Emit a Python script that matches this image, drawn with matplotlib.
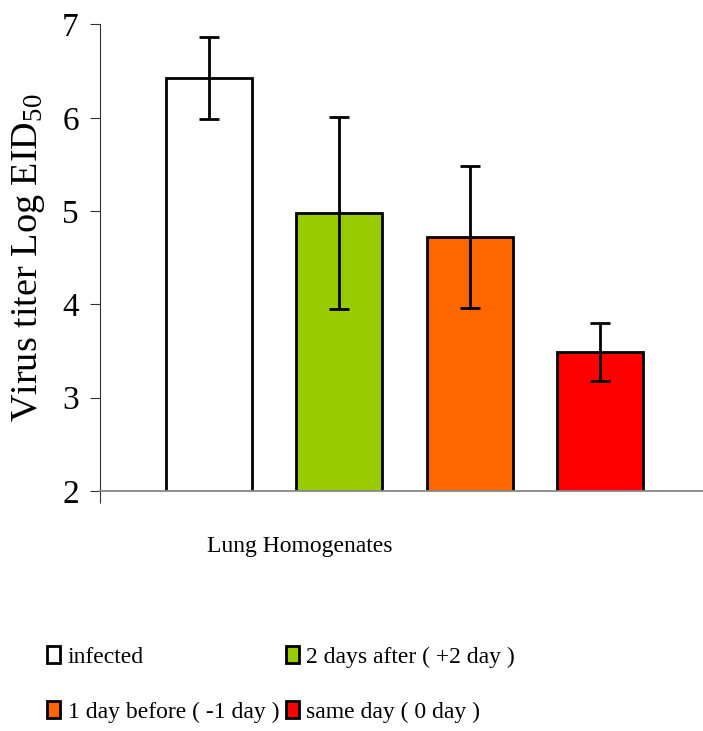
import numpy as np
import matplotlib
matplotlib.use("Agg")
import matplotlib.pyplot as plt

plt.rcParams["font.family"] = ["Liberation Serif", "DejaVu Serif"]
plt.rcParams["mathtext.fontset"] = "custom"
plt.rcParams["mathtext.rm"] = "Liberation Serif"
plt.rcParams["mathtext.it"] = "Liberation Serif"

# titres viraux (log EID50) dans les homogénats pulmonaires
groups = ["infected", "2 days after ( +2 day )",
          "1 day before ( -1 day )", "same day ( 0 day )"]
titer = [6.43, 4.98, 4.72, 3.49]
titer_err = [0.44, 1.03, 0.76, 0.31]
colors = ["#FFFFFF", "#99CC00", "#FF6600", "#FF0000"]

fig = plt.figure(figsize=(7.03, 7.31), dpi=100, facecolor="white")
ax = fig.add_axes([0.1422, 0.3283, 0.8578, 0.6382])

x = np.arange(len(groups))
bars = ax.bar(x, titer, width=0.66, color=colors, edgecolor="black",
              linewidth=2.0, zorder=2)
ax.errorbar(x, titer, yerr=titer_err, fmt="none", ecolor="black",
            elinewidth=2.0, capsize=7, capthick=2.0, zorder=3)

ax.set_xlim(-0.835, 3.79)
ax.set_ylim(2, 7)
ax.set_yticks(range(2, 8))
ax.tick_params(axis="y", direction="out", length=7.2, width=0.8,
               color="#333333", labelsize=24, pad=8)

# une seule graduation de catégorie, sur le bord gauche
ax.set_xticks([-0.835])
ax.set_xticklabels([""])
ax.tick_params(axis="x", direction="out", length=8.5, width=0.8, color="#333333")

for side in ["top", "right"]:
    ax.spines[side].set_visible(False)
ax.spines["left"].set_color("#333333")
ax.spines["left"].set_linewidth(0.8)
ax.spines["bottom"].set_color("#888888")
ax.spines["bottom"].set_linewidth(1.3)

ax.set_ylabel(r"Virus titer Log EID$_{50}$", fontsize=27.5, labelpad=11)
ax.set_xlabel("Lung Homogenates", fontsize=17)
ax.xaxis.set_label_coords(0.332, -0.12)
ax.xaxis.label.set_va("center")

# légende sur deux colonnes (remplie colonne par colonne)
order = [0, 2, 1, 3]
fig.legend([bars[i] for i in order], [groups[i] for i in order],
           ncol=2, loc="upper left", bbox_to_anchor=(0.0675, 0.116),
           frameon=False, fontsize=17, handlelength=0.55, handleheight=0.75,
           handletextpad=0.3, columnspacing=0.3, labelspacing=1.4,
           borderaxespad=0, borderpad=0)

fig.savefig("out.png", dpi=100, facecolor="white")
